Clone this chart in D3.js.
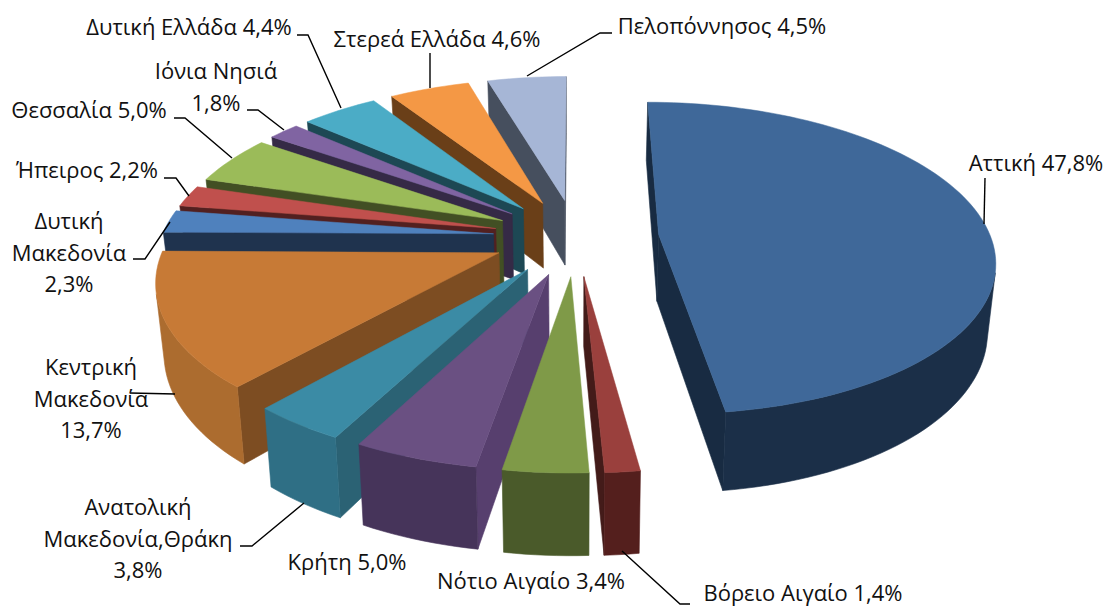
<!DOCTYPE html>
<html lang="el"><head><meta charset="utf-8">
<script src="https://cdn.jsdelivr.net/npm/d3@7/dist/d3.min.js"></script>
<style>html,body{margin:0;padding:0;background:#fff}svg{display:block}text{font-family:"Open Sans",sans-serif;font-size:22px;fill:#111}</style>
</head><body><div id="c"></div>
<script>
const regions=["Αττική","Βόρειο Αιγαίο","Νότιο Αιγαίο","Κρήτη","Ανατολική Μακεδονία,Θράκη","Κεντρική Μακεδονία","Δυτική Μακεδονία","Ήπειρος","Θεσσαλία","Ιόνια Νησιά","Δυτική Ελλάδα","Στερεά Ελλάδα","Πελοπόννησος"];
const shares=[47.8,1.4,3.4,5.0,3.8,13.7,2.3,2.2,5.0,1.8,4.4,4.6,4.5];
const topColors=["#3F6899","#9A403D","#7F9A48","#6A5082","#3B8BA5","#C77A36","#4F81BD","#C0504D","#9BBB59","#8064A2","#4BACC6","#F49845","#A6B6D6"];
const wallColors=["#182B42","#431B19","#55692F","#573F6E","#2B6274","#7D4D22","#1F334E","#522020","#424F24","#352A46","#1D4854","#6A3F18","#464F5E"];
const arcColors=["#1B2F48","#541F1D","#4A5A2A","#46345A","#2F6F85","#AC6C2F","#1F334E","#522020","#424F24","#352A46","#1D4854","#6A3F18","#464F5E"];
const paintOrder=[0,12,11,10,9,8,7,6,5,4,3,2,1];

const labelLines=[["Αττική 47,8%"],["Βόρειο Αιγαίο 1,4%"],["Νότιο Αιγαίο 3,4%"],["Κρήτη 5,0%"],["Ανατολική","Μακεδονία,Θράκη","3,8%"],["Κεντρική","Μακεδονία","13,7%"],["Δυτική","Μακεδονία","2,3%"],["Ήπειρος 2,2%"],["Θεσσαλία 5,0%"],["Ιόνια Νησιά","1,8%"],["Δυτική Ελλάδα 4,4%"],["Στερεά Ελλάδα 4,6%"],["Πελοπόννησος 4,5%"]];
const labelAt=[[1036,171],[803,601],[531,589],[347,570],[138,515],[91,375],[69,229],[87,178],[89,118],[216,79],[189,35],[437,47],[722,34]];
const leaders=[[[985,178],[984,224]],[[622,551],[680,604],[690,604]],[],[],[[240,546],[252,546],[304,503]],[[130,393],[175,394]],[[133,259],[145,259],[170,222]],[[164,178],[176,178],[189,196]],[[174,118],[185,118],[232,158]],[[247,110],[258,110],[284,130]],[[297,35],[308,35],[341,108]],[[430,53],[430,88]],[[527,76],[600,33],[612,33]]];

const W=1105,H=608,cx=576,cy=237,ax=332,ay=153,persp=0.152,explode=0.25,depth=67,taper=0.98;
const svg=d3.select("#c").append("svg").attr("width",W).attr("height",H);
const project=(X,Yd)=>{const w=1-persp*Yd;return {x:cx+ax*X/w,y:cy+ay*Yd/w,w};};
const lower=p=>({x:cx+(p.x-cx)*taper,y:p.y+depth/p.w,w:p.w});
const arcs=d3.pie().sort(null).value(d=>d)(shares);
const line=d3.line().x(d=>d.x).y(d=>d.y);
const area=q=>d3.polygonArea(q.map(p=>[p.x,p.y]));
const facing=(a,b)=>area([a,b,lower(b),lower(a)])>0;
function wall(g,a,b,col){
  if(!facing(a,b)) return;
  g.append("path").attr("d",line([a,b,lower(b),lower(a)])+"Z").attr("fill",col).attr("stroke",col).attr("stroke-width",0.6);
}
paintOrder.forEach(i=>{
  const s=arcs[i],m=(s.startAngle+s.endAngle)/2;
  const ox=explode*Math.sin(m),oy=-explode*Math.cos(m);
  const pt=t=>project(ox+Math.sin(t),oy-Math.cos(t));
  const apex=project(ox,oy);
  const n=Math.max(2,Math.ceil((s.endAngle-s.startAngle)/0.03));
  const ring=d3.range(n+1).map(k=>pt(s.startAngle+(s.endAngle-s.startAngle)*k/n));
  const g=svg.append("g").attr("class","slice");
  wall(g,apex,ring[0],wallColors[i]);
  wall(g,ring[n],apex,wallColors[i]);
  // the visible part of the rim is one run of facets: draw it as a single shape
  const seen=ring.filter((p,k)=>(k<n&&facing(p,ring[k+1]))||(k>0&&facing(ring[k-1],p)));
  if(seen.length>1){
    const rim=[...seen,...seen.slice().reverse().map(lower)];
    g.append("path").attr("d",line(rim)+"Z").attr("fill",arcColors[i]).attr("stroke",arcColors[i]).attr("stroke-width",0.6);
  }
  g.append("path").attr("d",line([apex,...ring])+"Z").attr("fill",topColors[i]).attr("stroke",topColors[i]).attr("stroke-width",0.5);
});
const leaderLine=d3.line();
leaders.forEach(l=>{if(l.length) svg.append("path").attr("d",leaderLine(l)).attr("fill","none").attr("stroke","#000").attr("stroke-width",1.4);});
regions.forEach((r,i)=>{
  const t=svg.append("text").attr("text-anchor","middle").attr("aria-label",r+" "+shares[i]);
  labelLines[i].forEach((tx,k)=>t.append("tspan").attr("x",labelAt[i][0]).attr("y",labelAt[i][1]+k*31.5).text(tx));
});
</script></body></html>
